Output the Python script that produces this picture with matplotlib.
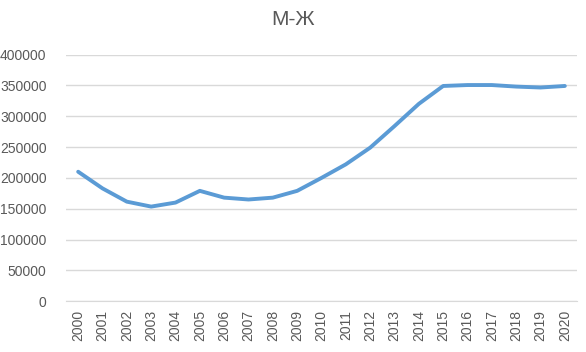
import matplotlib.pyplot as plt

years = [str(y) for y in range(2000, 2021)]
values = [210000, 183000, 161500, 153500, 160000, 179000, 168000, 165000,
          168000, 179000, 200000, 222000, 249000, 284000, 320000, 349000,
          350500, 350500, 348000, 346500, 349000]

plt.rcParams['font.family'] = ['Liberation Sans', 'DejaVu Sans']

fig = plt.figure(figsize=(5.86, 3.52), dpi=100)
ax = fig.add_axes([66 / 586, 1 - 301.3 / 352, (577 - 66) / 586, (301.3 - 54.5) / 352])

x = list(range(len(years)))
ax.plot(x, values, color='#5b9bd5', linewidth=2.8, solid_capstyle='round')

ax.set_xlim(-0.5, len(years) - 0.5)
ax.set_ylim(0, 400000)
ax.set_yticks(range(0, 400001, 50000))
ax.set_yticklabels([str(v) for v in range(0, 400001, 50000)])
ax.set_xticks(x)
ax.set_xticklabels(years, rotation=90)
ax.tick_params(axis='both', length=0, labelsize=10, labelcolor='#595959')
ax.tick_params(axis='y', pad=14)
ax.tick_params(axis='x', pad=6)

ax.grid(axis='y', color='#d9d9d9', linewidth=1)
ax.set_axisbelow(True)
for side in ['top', 'right', 'left']:
    ax.spines[side].set_visible(False)
ax.spines['bottom'].set_color('#d9d9d9')

fig.suptitle('М-Ж', x=0.5, y=1 - 10 / 352, va='top', fontsize=15, color='#595959')

fig.savefig('out.png', dpi=100)
